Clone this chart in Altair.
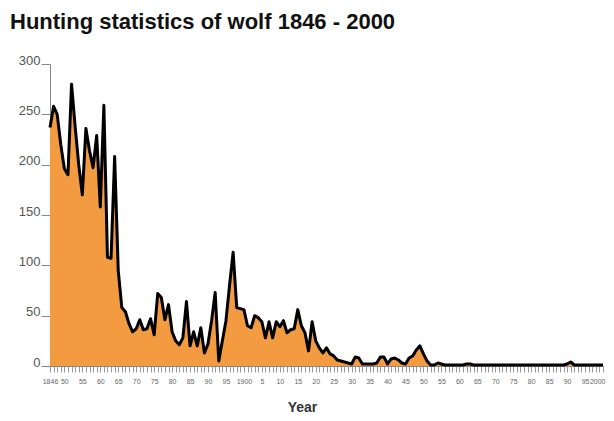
import altair as alt
import pandas as pd

years = list(range(1846, 2001))
wolves = [
    237, 258, 250, 220, 196, 190, 280, 238, 200, 170,   # 1846-1855
    236, 214, 197, 229, 158, 259, 108, 107, 208, 95,    # 1856-1865
    58, 54, 42, 34, 37, 46, 36, 37, 47, 31,             # 1866-1875
    72, 68, 46, 61, 34, 25, 21, 28, 64, 20,             # 1876-1885
    34, 20, 38, 13, 22, 45, 73, 5, 25, 45,              # 1886-1895
    80, 113, 58, 57, 56, 40, 38, 50, 48, 44,            # 1896-1905
    28, 44, 28, 44, 39, 45, 33, 36, 37, 56,             # 1906-1915
    40, 33, 15, 44, 25, 18, 13, 18, 12, 10,             # 1916-1925
    6, 5, 4, 3, 2, 9, 8, 2, 2, 2,                       # 1926-1935
    2, 3, 9, 9, 2, 7, 8, 6, 3, 2,                       # 1936-1945
    8, 10, 16, 20, 12, 5, 1, 1, 3, 2,                   # 1946-1955
    1, 1, 1, 1, 1, 1, 2, 2, 1, 1,                       # 1956-1965
    1, 1, 1, 1, 1, 1, 1, 1, 1, 1,                       # 1966-1975
    1, 1, 1, 1, 1, 1, 1, 1, 1, 1,                       # 1976-1985
    1, 1, 1, 1, 2, 4, 1, 1, 1, 1,                       # 1986-1995
    1, 1, 1, 1, 1,                                      # 1996-2000
]
y_ticks = [0, 50, 100, 150, 200, 250, 300]
title_text = "Hunting statistics of wolf 1846 - 2000"

df = pd.DataFrame({"Year": years, "Wolves": wolves})

label_expr = (
    "datum.value == 1846 || datum.value == 1900 || datum.value == 2000 ? '' + datum.value : "
    "(datum.value % 5 == 0 ? '' + (datum.value % 100) : '')"
)

x_enc = alt.X(
    "Year:Q",
    scale=alt.Scale(domain=[1846, 2000], nice=False, zero=False),
    axis=alt.Axis(
        values=years,
        tickCount=len(years),
        labelExpr=label_expr,
        labelOverlap=False,
        labelFlush=False,
        labelAlign={"condition": {"test": "datum.value == 2000", "value": "right"}, "value": "center"},
        labelOffset={"condition": {"test": "datum.value == 2000", "value": 2}, "value": 0},
        labelFontSize=7,
        labelColor="#666",
        labelFont="Liberation Sans",
        labelPadding=5,
        tickSize=6,
        tickColor="#999",
        domainColor="#888",
        grid=False,
        title="Year",
        titleFont="Liberation Sans",
        titleFontSize=14,
        titleFontWeight="bold",
        titleColor="#333",
        titleX=252,
        titleY=45,
        titleBaseline="alphabetic",
        titleAlign="center",
    ),
)
y_enc = alt.Y(
    "Wolves:Q",
    scale=alt.Scale(domain=[0, 300], nice=False),
    axis=alt.Axis(
        values=y_ticks,
        labelFontSize=13,
        labelColor="#555",
        labelFont="Liberation Sans",
        labelBaseline="alphabetic",
        labelPadding=1,
        tickSize=9,
        tickColor="#888",
        domainColor="#888",
        grid=False,
        title=None,
    ),
)

area = alt.Chart(df).mark_area(color="#F29B40", opacity=1).encode(x=x_enc, y=y_enc)
line = alt.Chart(df).mark_line(color="black", strokeWidth=3, strokeJoin="round").encode(x="Year:Q", y="Wolves:Q")

chart = (
    alt.layer(area, line)
    .properties(
        width=553,
        height=302,
        background="white",
        autosize=alt.AutoSizeParams(type="none"),
        padding={"left": 42, "top": 56, "right": 3, "bottom": 47},
        title=alt.TitleParams(
            text=title_text,
            font="Liberation Sans",
            fontSize=22,
            fontWeight="bold",
            color="#111",
            anchor="start",
            frame="group",
            dx=-40,
            offset=3,
            baseline="alphabetic",
        ),
    )
    .configure_view(stroke=None)
)

chart.save("out.html", embed_options={"renderer": "svg", "actions": False})
